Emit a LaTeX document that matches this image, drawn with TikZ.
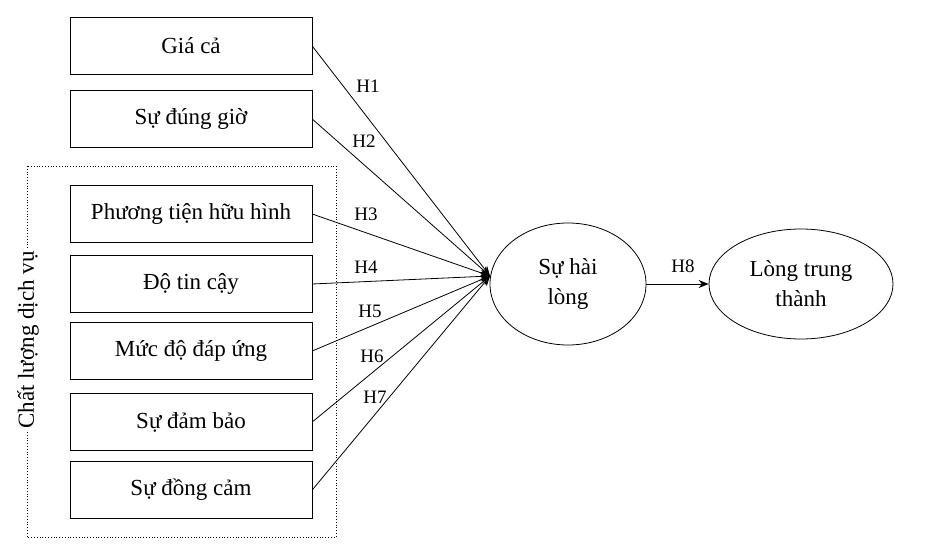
\documentclass[tikz,border=0pt]{standalone}
\usepackage{fontspec}
\setmainfont{Liberation Serif}
\usetikzlibrary{arrows.meta,shapes.geometric}
\begin{document}
\begin{tikzpicture}[x=1pt,y=-1pt,
        box/.style={draw, minimum width=242pt, minimum height=57pt, font=\fontsize{23}{26}\selectfont},
        oval/.style={draw, ellipse, thick, font=\fontsize{23}{30}\selectfont, align=center},
        hlab/.style={font=\fontsize{19}{21}\selectfont},
        link/.style={draw, thick, -{Stealth[length=10pt,width=8pt]}},
    ]
    \useasboundingbox (0,0) rectangle (929,545);
    \draw[dotted, thick] (27,166) rectangle (336,537);
    \node[fill=white, rotate=90, font=\fontsize{23}{26}\selectfont] (cl) at (28,340) {Chất lượng dịch vụ};
    \node[box] (gia) at (191,46) {Giá cả};
    \node[box] (gio) at (191,119) {Sự đúng giờ};
    \node[box] (pt) at (191,214) {Phương tiện hữu hình};
    \node[box] (tc) at (191,284) {Độ tin cậy};
    \node[box] (du) at (191,351) {Mức độ đáp ứng};
    \node[box] (db) at (191,422) {Sự đảm bảo};
    \node[box] (dc) at (191,490) {Sự đồng cảm};
    \node[oval, minimum width=156pt, minimum height=122pt] (hl) at (568,284) {Sự hài\\lòng};
    \node[oval, minimum width=184pt, minimum height=110pt] (ltt) at (801,284) {Lòng trung\\thành};
    \coordinate (tip) at (490,276);
    \draw[link] (gia.east) -- (tip);
    \draw[link] (gio.east) -- (tip);
    \draw[link] (pt.east) -- (tip);
    \draw[link] (tc.east) -- (tip);
    \draw[link] (du.east) -- (tip);
    \draw[link] (db.east) -- (tip);
    \draw[link] (dc.east) -- (tip);
    \draw[link] (hl.east) -- (ltt.west);
    \node[hlab] (h1) at (368,86) {H1};
    \node[hlab] (h2) at (364,141) {H2};
    \node[hlab] (h3) at (366,214) {H3};
    \node[hlab] (h4) at (366,267) {H4};
    \node[hlab] (h5) at (370,311) {H5};
    \node[hlab] (h6) at (372,356) {H6};
    \node[hlab] (h7) at (375,397) {H7};
    \node[hlab] (h8) at (683,266) {H8};
\end{tikzpicture}
\end{document}
